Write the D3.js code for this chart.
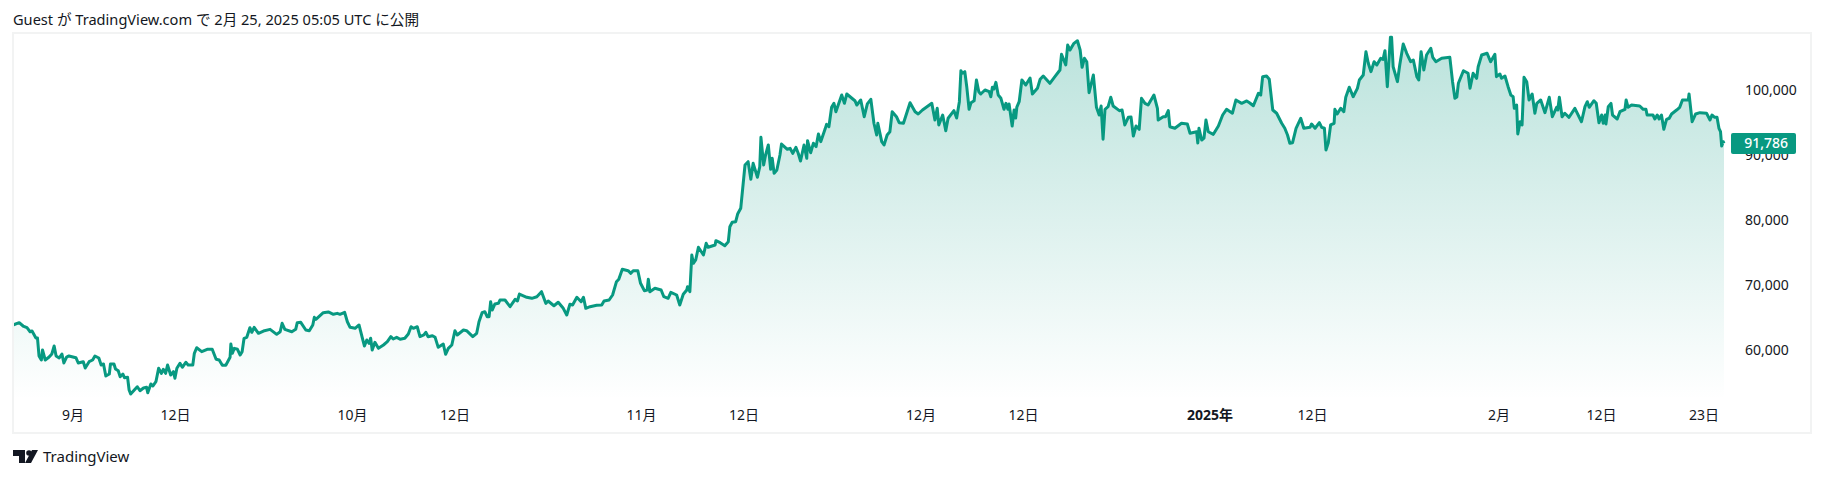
<!DOCTYPE html>
<html>
<head>
<meta charset="utf-8">
<script src="https://cdn.jsdelivr.net/npm/d3@7"></script>
<style>
html, body { margin: 0; padding: 0; background: #fff; }
svg { display: block; }
text { font-family: "Noto Sans", "Noto Sans CJK JP", sans-serif; fill: #131722; }
</style>
</head>
<body>
<script>
// [hours since the first bar, price]
var prices = [[0,63850],[16,64200],[26,63690],[36,63430],[44,62810],[49,62920],[59,61850],[63,61850],[67,59080],[73,58460],[76,60000],[83,58460],[93,58920],[100,59380],[106,60610],[111,59080],[119,58770],[126,59380],[131,58000],[138,58920],[144,59080],[162,58820],[168,58000],[181,58200],[186,57230],[196,58200],[205,58460],[211,59080],[221,58770],[227,57690],[233,57850],[239,56000],[248,56310],[251,57850],[260,57850],[264,57080],[271,56810],[276,55890],[283,56310],[287,55740],[295,55800],[299,53850],[303,53230],[320,54350],[327,53740],[336,54150],[344,54260],[347,53430],[355,54770],[360,54460],[368,55120],[375,57180],[382,56410],[387,57030],[393,56410],[398,57690],[406,56150],[413,56660],[417,55650],[422,57180],[430,57950],[436,57340],[445,58110],[451,57690],[463,57690],[467,59490],[473,60350],[486,59740],[500,60110],[513,60110],[523,58570],[531,58460],[539,57650],[548,57650],[559,58880],[561,60920],[565,59490],[570,60260],[578,60110],[585,59230],[590,59740],[595,61800],[602,61950],[610,63430],[615,62720],[621,63490],[632,62570],[645,62920],[662,63180],[679,62410],[688,62810],[693,64110],[700,63180],[718,62810],[728,63180],[732,64200],[741,64260],[754,63080],[763,62970],[772,63850],[776,65030],[780,64720],[799,65740],[812,65850],[825,65490],[835,65640],[842,65490],[854,65800],[861,64350],[868,63490],[881,63340],[891,63850],[902,61280],[905,60610],[911,61540],[917,61030],[921,61800],[925,60000],[932,61180],[941,60260],[954,60770],[964,61280],[973,62050],[979,61690],[988,61950],[997,61650],
[1009,61800],[1018,62460],[1025,63580],[1031,63340],[1041,63580],[1048,62050],[1058,62310],[1063,62720],[1069,62050],[1080,62200],[1087,61950],[1095,60410],[1108,60920],[1114,59340],[1121,60260],[1130,60770],[1138,62970],[1144,62310],[1160,63080],[1168,62970],[1184,62050],[1194,62570],[1200,64350],[1208,65740],[1215,65890],[1221,65120],[1226,65120],[1230,67430],[1234,66150],[1241,67080],[1250,67180],[1254,67690],[1267,67690],[1280,66660],[1293,67800],[1299,67540],[1304,68610],[1323,68110],[1336,67950],[1349,68200],[1361,68970],[1372,67180],[1378,67540],[1393,66810],[1404,67340],[1417,66410],[1426,65380],[1434,67030],[1441,66920],[1452,68110],[1463,67430],[1469,68110],[1475,66410],[1486,66660],[1503,66880],[1516,66920],[1522,67540],[1535,67690],[1544,68460],[1554,70510],[1560,70880],[1569,72410],[1584,72200],[1591,71800],[1597,72200],[1609,72200],[1616,70260],[1626,69120],[1633,69230],[1636,70880],[1640,68970],[1653,69490],[1669,69230],[1676,68200],[1687,67950],[1694,68880],[1709,68460],[1717,66920],[1726,68570],[1735,69230],[1737,69740],[1743,68970],[1748,74620],[1752,73340],[1758,73850],[1765,75800],[1778,74620],[1785,76410],[1790,75800],[1808,76150],[1810,76810],[1821,76510],[1833,76050],[1842,76660],[1846,78970],[1852,79650],[1861,79740],[1866,80920],[1874,81800],[1885,88460],[1893,88970],[1900,86260],[1906,88720],[1917,86570],[1923,88200],[1926,92720],[1933,88460],[1938,90000],[1945,91540],[1951,87800],[1955,89490],[1960,87180],[1967,87690],[1975,90000],[1979,91690],[1994,90880],[2001,91030],[2008,90260],[2016,91180],[2022,90260],[2028,89080],[2037,91540],[2044,89490],[2046,92200],[2054,90350],[2061,91800],[2068,91280],[2074,93230],[2080,92050],[2091,93950],[2095,94720],[2101,94350],[2108,97340],[2114,97950],[2119,96660],[2134,99230],[2141,97950],[2147,99380],[2168,98350],[2173,97690],[2183,98460],[2192,95890],[2200,97850],[2209,98570],[2217,94880],[2224,93080],[2227,94880],[2237,92050],[2243,91540],[2251,93080],[2258,93580],[2264,96660],[2275,95890],[2282,94970],[2293,94880],[2310,98050],[2323,96660],[2331,96310],[2342,96920],[2366,97950],[2374,95380],[2380,97180],[2384,94620],[2394,96150],[2402,93740],[2408,95650],
[2423,96820],[2430,95690],[2437,98200],[2441,102970],[2444,102570],[2451,102820],[2456,100510],[2462,97030],[2467,98050],[2475,98350],[2481,101540],[2487,99740],[2492,99380],[2503,100000],[2514,99740],[2518,98970],[2522,100420],[2526,100150],[2531,101180],[2537,99230],[2544,98720],[2552,97030],[2557,97950],[2562,97030],[2565,97850],[2573,94460],[2578,96920],[2582,95690],[2585,97380],[2591,98200],[2598,101540],[2608,100770],[2619,101850],[2625,99380],[2638,100260],[2645,101650],[2653,102150],[2670,101030],[2683,102050],[2696,103080],[2700,105490],[2711,103850],[2716,106920],[2722,106150],[2732,107180],[2741,107580],[2748,106150],[2753,103490],[2759,104880],[2765,104350],[2771,99580],[2782,102310],[2790,97340],[2797,96150],[2802,97540],[2807,92420],[2812,97030],[2820,97430],[2827,98880],[2833,97540],[2849,96820],[2856,96920],[2863,94620],[2872,95800],[2879,95850],[2885,92920],[2892,94460],[2900,93950],[2906,98720],[2915,97950],[2923,97690],[2938,99230],[2947,97180],[2949,95380],[2962,95890],[2968,95890],[2975,96820],[2979,94350],[2992,94110],[3009,94880],[3024,94770],[3031,93340],[3048,93580],[3051,91850],[3054,94110],[3061,92310],[3067,92610],[3072,95380],[3078,93580],[3091,93180],[3104,94460],[3115,96150],[3125,97030],[3140,96420],[3149,98460],[3164,97950],[3177,98310],[3185,98000],[3194,97580],[3207,99490],[3213,99230],[3218,102050],[3228,102150],[3235,101650],[3244,96920],[3254,96420],[3267,94880],[3275,94110],[3282,93080],[3288,91800],[3295,91890],[3304,94110],[3316,95650],[3324,94110],[3340,94260],[3344,94770],[3353,94110],[3364,94970],[3370,94260],[3377,94110],[3381,90770],[3387,91890],[3393,94620],[3402,94880],[3404,97030],[3410,96310],[3419,97180],[3427,96660],[3432,98880],[3441,100420],[3451,98970],[3462,100260],[3467,101540],[3477,102310],[3484,105890],[3490,104110],[3497,102820],[3505,104350],[3512,103850],[3522,104880],[3528,104720],[3533,106050],[3539,100510],[3547,108110],[3550,108110],[3554,103580],[3565,101280],[3571,103850],[3580,107080],[3589,105650],[3599,104350],[3606,104620],[3615,102050],[3620,101540],[3626,105890],[3633,103080],[3640,105380],[3651,106420],[3656,105030],[3664,104350],[3679,104880],[3700,105030],[3707,101280],[3713,98720],[3718,98920],[3722,101030],[3735,102970],[3747,102570],[3752,100260],[3760,102570],[3769,101800],[3773,103580],[3782,105380],[3796,105650],[3805,104350],[3816,105490],[3820,102050],[3829,102460],[3833,101800],[3842,102150],[3850,100510],[3857,99230],[3863,98970],[3866,97180],[3872,97690],[3875,93230],[3881,95120],[3886,94620],[3891,101950],[3898,101280],[3904,98460],[3912,99380],[3919,96420],[3924,97950],[3934,98460],[3945,96510],[3956,98880],[3964,95890],[3975,97340],[3978,96920],[3982,98880],[3989,95890],[3996,96420],[4007,95800],[4022,97180],[4039,95120],[4048,97430],[4054,98200],[4059,97340],[4071,98350],[4077,97950],[4084,94970],[4091,96150],[4095,94880],[4100,96150],[4102,94770],[4108,97430],[4115,97950],[4119,96150],[4131,95540],[4138,96660],[4151,97030],[4154,98460],[4159,97340],[4168,97690],[4189,97540],[4198,97030],[4205,97030],[4208,96150],[4223,96150],[4228,95540],[4234,96150],[4239,95540],[4245,96150],[4251,93950],[4258,95490],[4265,95650],[4271,96310],[4284,96920],[4292,97340],[4299,98460],[4314,98460],[4316,99380],[4324,95120],[4333,96310],[4344,96510],[4361,96420],[4370,95380],[4375,96150],[4382,95800],[4388,95800],[4393,94110],[4397,93580],[4400,91380],[4404,92050],[4406,91786]];

var priceTicks = [60000, 70000, 80000, 90000, 100000];
var timeTicks = [[2024,8,1],[2024,8,12],[2024,9,1],[2024,9,12],[2024,10,1],[2024,10,12],[2024,11,1],[2024,11,12],[2025,0,1],[2025,0,12],[2025,1,1],[2025,1,12],[2025,1,23]];
var timeLabels = ["9月","12日","10月","12日","11月","12日","12月","12日","2025年","12日","2月","12日","23日"];
var lastPrice = 91786;
var titleText = "Guest が TradingView.com で 2月 25, 2025 05:05 UTC に公開";

var width = 1824, height = 478;
var firstBar = Date.UTC(2024, 7, 25, 15);
var toDate = function(h){ return new Date(firstBar + h * 3600000); };

var frame = {left: 13, right: 1811, top: 33, bottom: 433};
var plotRight = 1724;

var x = d3.scaleUtc()
    .domain([toDate(0), toDate(prices[prices.length - 1][0])])
    .range([frame.left, plotRight]);

var y = d3.scaleLinear()
    .domain([60000, 100000])
    .range([350, 90]);

var svg = d3.select("body").append("svg")
    .attr("width", width)
    .attr("height", height);

svg.append("text")
    .attr("x", 13)
    .attr("y", 25)
    .attr("font-size", 14.6)
    .text(titleText);

// fill fades out towards the time axis
var grad = svg.append("defs").append("linearGradient")
    .attr("id", "fade")
    .attr("gradientUnits", "userSpaceOnUse")
    .attr("x1", 0).attr("x2", 0)
    .attr("y1", frame.top).attr("y2", 400);
grad.append("stop").attr("offset", 0).attr("stop-color", "#089981").attr("stop-opacity", 0.28);
grad.append("stop").attr("offset", 1).attr("stop-color", "#089981").attr("stop-opacity", 0);

var area = d3.area()
    .x(function(d){ return x(toDate(d[0])); })
    .y0(400)
    .y1(function(d){ return y(d[1]); });

var line = d3.line()
    .x(function(d){ return x(toDate(d[0])); })
    .y(function(d){ return y(d[1]); });

svg.append("path")
    .datum(prices)
    .attr("d", area)
    .attr("fill", "url(#fade)");

svg.append("path")
    .datum(prices)
    .attr("d", line)
    .attr("fill", "none")
    .attr("stroke", "#089981")
    .attr("stroke-width", 3)
    .attr("stroke-linejoin", "round");

svg.append("rect")
    .attr("x", frame.left)
    .attr("y", frame.top)
    .attr("width", frame.right - frame.left)
    .attr("height", frame.bottom - frame.top)
    .attr("fill", "none")
    .attr("stroke", "#f2f3f3")
    .attr("stroke-width", 2);

// price axis
var yAxis = d3.axisRight(y)
    .tickValues(priceTicks)
    .tickFormat(d3.format(","))
    .tickSize(0)
    .tickPadding(0);
var yG = svg.append("g")
    .attr("transform", "translate(1745,0)")
    .call(yAxis);
yG.select(".domain").remove();
yG.selectAll("text").attr("font-size", 14).attr("font-family", null);

// time axis
var tickDates = timeTicks.map(function(t){ return new Date(Date.UTC(t[0], t[1], t[2])); });
var xAxis = d3.axisBottom(x)
    .tickValues(tickDates)
    .tickFormat(function(d, i){ return timeLabels[i]; })
    .tickSize(0)
    .tickPadding(0);
var xG = svg.append("g")
    .attr("transform", "translate(0,410)")
    .call(xAxis);
xG.select(".domain").remove();
xG.selectAll("text")
    .attr("font-size", 14)
    .attr("font-family", null)
    .attr("font-weight", function(d, i){ return timeLabels[i] == "2025年" ? "bold" : null; });

// last price label
svg.append("rect")
    .attr("x", 1731)
    .attr("y", y(lastPrice) - 10.5)
    .attr("width", 65)
    .attr("height", 21)
    .attr("rx", 2)
    .attr("fill", "#089981");
svg.append("text")
    .attr("x", 1788)
    .attr("y", y(lastPrice) + 5)
    .attr("text-anchor", "end")
    .attr("font-size", 14)
    .attr("font-weight", 500)
    .style("fill", "#fff")
    .text(d3.format(",")(lastPrice));

// logo
var logo = svg.append("g").attr("fill", "#131722");
logo.append("path").attr("d", "M13 450H25V463H19V456H13Z");
logo.append("circle").attr("cx", 29).attr("cy", 453).attr("r", 2.8);
logo.append("path").attr("d", "M32 450H38L31 463H25Z");
svg.append("text")
    .attr("x", 43)
    .attr("y", 462)
    .attr("font-size", 15)
    .text("TradingView");
</script>
</body>
</html>
